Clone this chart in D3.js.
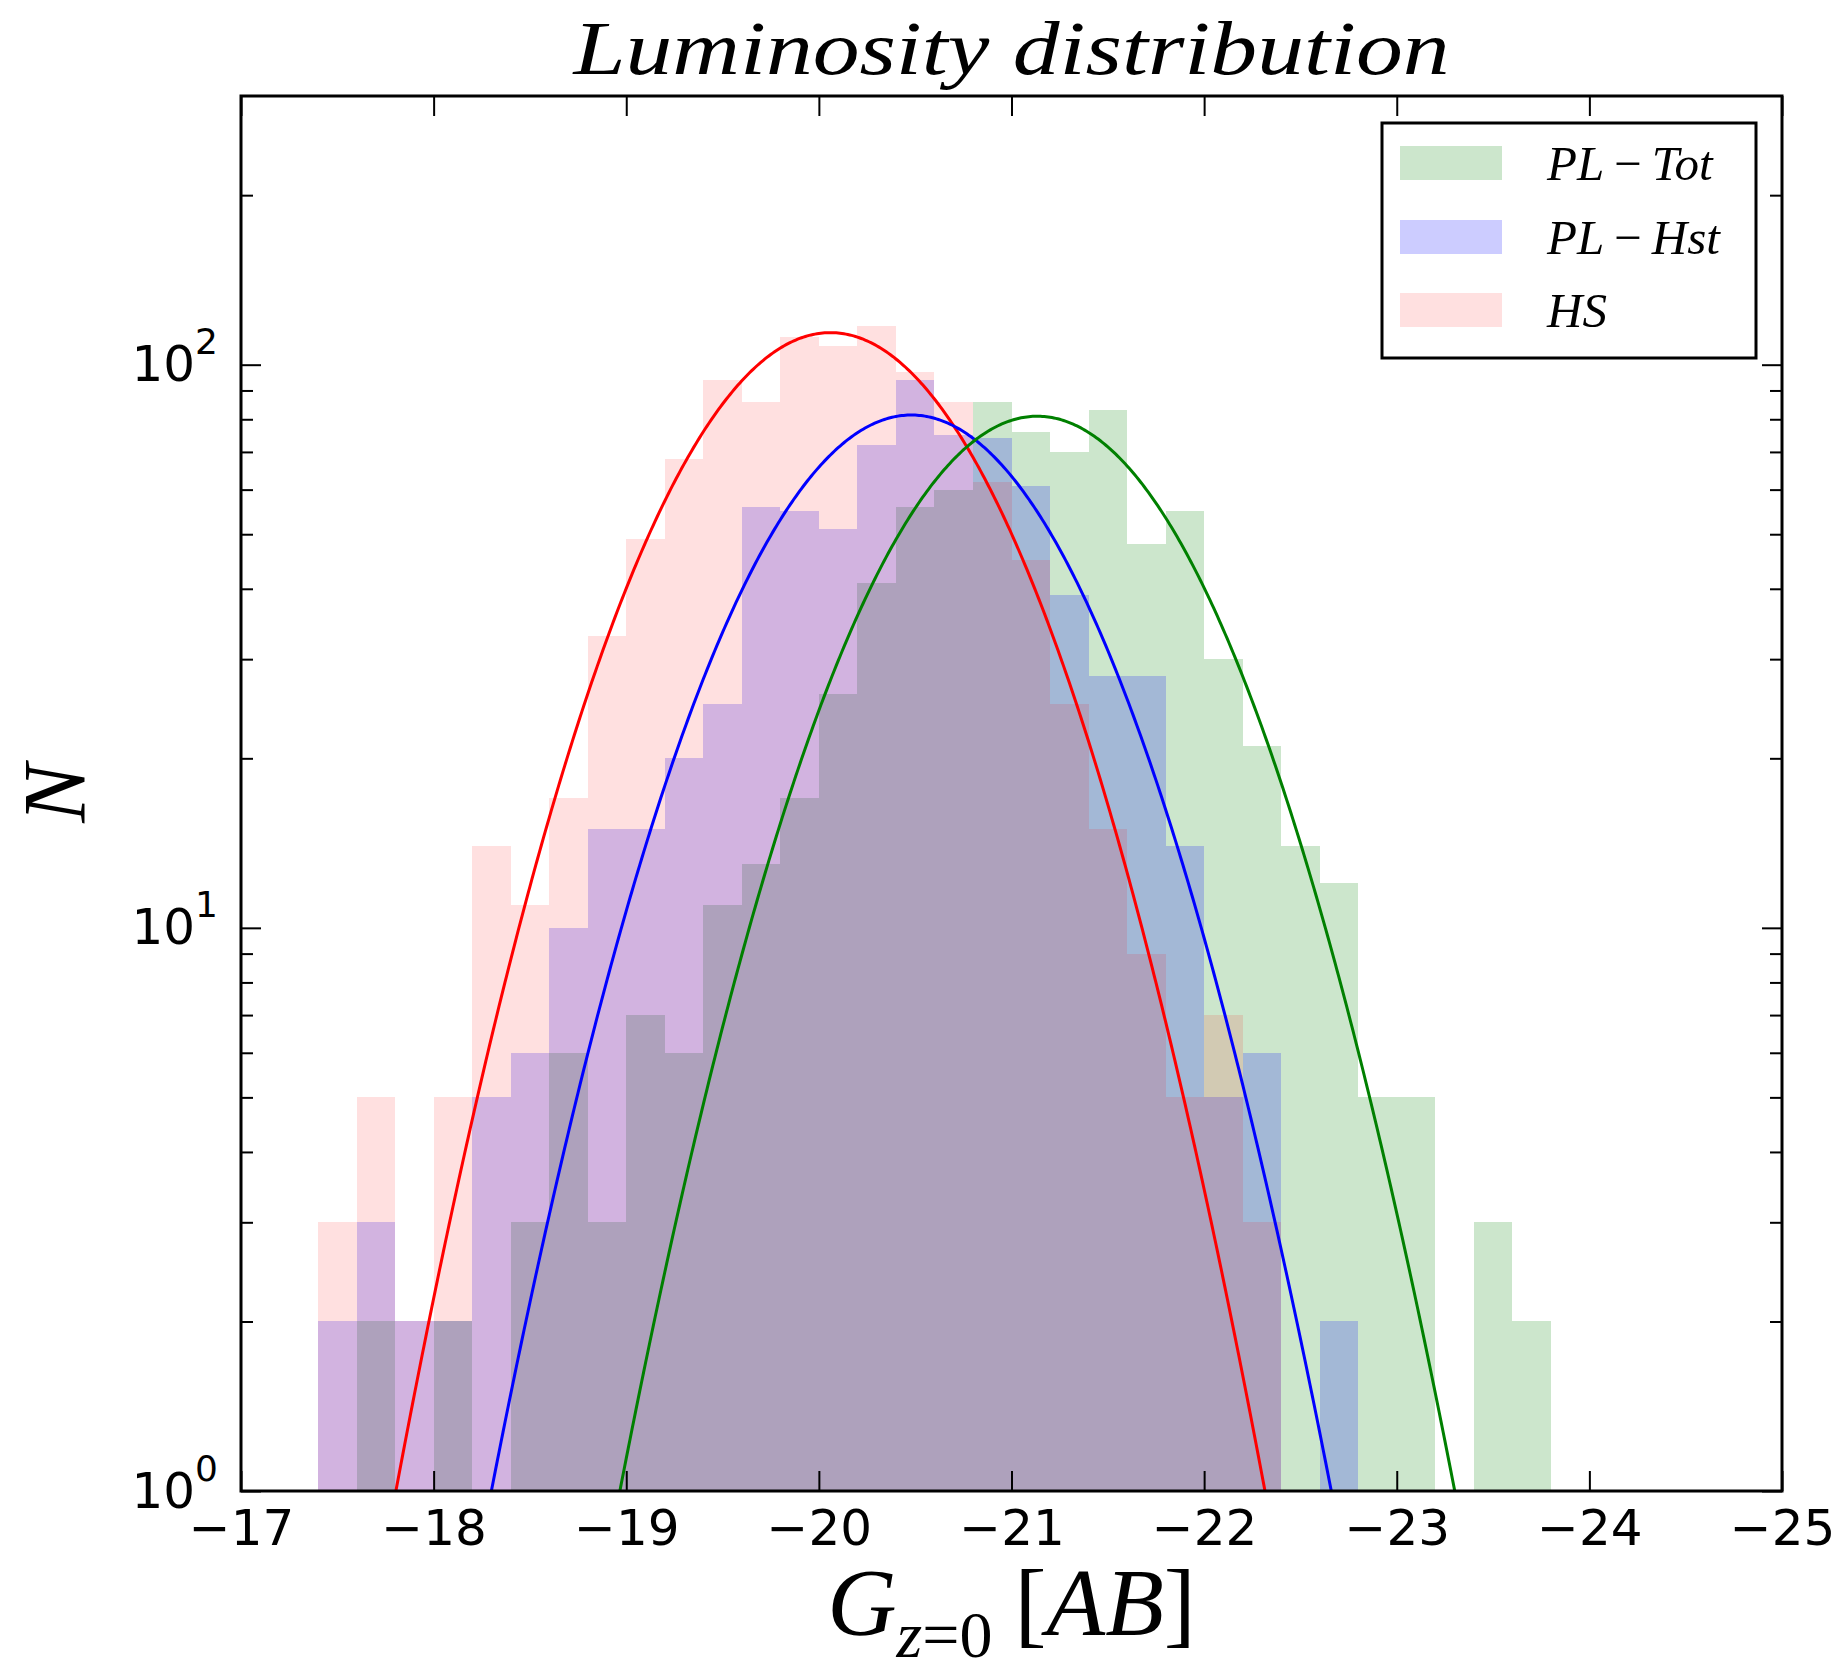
<!DOCTYPE html>
<html>
<head>
<meta charset="utf-8">
<script src="https://cdn.jsdelivr.net/npm/d3@7"></script>
<style>
  body { margin: 0; background: #fff; }
  svg { display: block; }
  .tick line { stroke: #000; stroke-width: 2; }
</style>
</head>
<body>
<div id="chart"></div>
<script>
//============= DATA ==============//
// histogram bin edges in G_{z=0} [AB], 0.2 mag wide
const binEdges = [-17.4, -17.6, -17.8, -18.0, -18.2, -18.4, -18.6, -18.8, -19.0, -19.2,
                  -19.4, -19.6, -19.8, -20.0, -20.2, -20.4, -20.6, -20.8, -21.0, -21.2,
                  -21.4, -21.6, -21.8, -22.0, -22.2, -22.4, -22.6, -22.8, -23.0, -23.2,
                  -23.4, -23.6, -23.8];

// counts per bin
const plTot = [0, 2, 0, 2, 0, 3, 6, 3, 7, 6, 11, 13, 17, 26, 41, 56, 60, 86, 76, 70,
               83, 48, 55, 30, 21, 14, 12, 5, 5, 0, 3, 2];
const plHst = [2, 3, 2, 2, 5, 6, 10, 15, 15, 20, 25, 56, 55, 51, 72, 94, 75, 74, 61, 39,
               28, 28, 14, 5, 6, 0, 2, 0, 0, 0, 0, 0];
const hs    = [3, 5, 2, 5, 14, 11, 17, 33, 49, 68, 94, 86, 112, 108, 117, 97, 86, 62, 45, 25,
               15, 9, 5, 7, 3, 0, 0, 0, 0, 0, 0, 0];

// gaussian fits: [mean, sigma, peak]
const fitTot = [-21.134, 0.731, 81];
const fitHst = [-20.48, 0.735, 81.4];
const fitHs  = [-20.06, 0.733, 114];

const seriesNames = ["PL\u2212Tot", "PL\u2212Hst", "HS"];
const xTicks = [-17, -18, -19, -20, -21, -22, -23, -24, -25];
const yMajor = [1, 10, 100];
const yMinor = [2, 3, 4, 5, 6, 7, 8, 9, 20, 30, 40, 50, 60, 70, 80, 90, 200];
const xDomain = [-17, -25];
const yDomain = [1, 300];

const series = [
  {name: seriesNames[0], counts: plTot, fit: fitTot, color: "#008000", alpha: 0.2},
  {name: seriesNames[1], counts: plHst, fit: fitHst, color: "#0000ff", alpha: 0.2},
  {name: seriesNames[2], counts: hs,    fit: fitHs,  color: "#ff0000", alpha: 0.12}
];

//============= SETUP ==============//
const W = 1844, H = 1672;
const margin = {top: 96, right: 62, bottom: 181, left: 241};
const width = W - margin.left - margin.right;
const height = H - margin.top - margin.bottom;

const svg = d3.select("#chart").append("svg")
    .attr("width", W)
    .attr("height", H);

const g = svg.append("g")
    .attr("transform", "translate(" + margin.left + "," + margin.top + ")");

const x = d3.scaleLinear().domain(xDomain).range([0, width]);
const y = d3.scaleLog().domain(yDomain).range([height, 0]);

g.append("clipPath").attr("id", "clip")
  .append("rect").attr("width", width).attr("height", height);

const plot = g.append("g").attr("clip-path", "url(#clip)");

//============= HISTOGRAMS ==============//
series.forEach(s => {
  const bins = s.counts.map((c, i) => ({c: c, x0: binEdges[i], x1: binEdges[i + 1]}))
    .filter(d => d.c > 0);
  plot.append("g")
    .attr("shape-rendering", "crispEdges")
    .selectAll("rect")
    .data(bins)
    .join("rect")
      .attr("x", d => x(d.x0))
      .attr("width", d => x(d.x1) - x(d.x0))
      .attr("y", d => y(d.c))
      .attr("height", d => height - y(d.c))
      .attr("fill", s.color)
      .attr("fill-opacity", s.alpha);
});

//============= FIT CURVES ==============//
const gx = d3.range(-17, -25.001, -0.01);
const line = d3.line()
    .x(d => x(d[0]))
    .y(d => y(Math.max(d[1], 0.5)));

[series[2], series[1], series[0]].forEach(s => {
  const [mu, sig, amp] = s.fit;
  const pts = gx.map(v => [v, amp * Math.exp(-((v - mu) * (v - mu)) / (2 * sig * sig))]);
  plot.append("path")
    .datum(pts)
    .attr("fill", "none")
    .attr("stroke", s.color)
    .attr("stroke-width", 3)
    .attr("d", line);
});

//============= AXES ==============//
const tickFont = "'DejaVu Sans', sans-serif";

g.append("g")
    .attr("transform", "translate(0," + height + ")")
    .call(d3.axisBottom(x).tickValues(xTicks).tickSize(-20).tickPadding(18)
      .tickFormat(d => "\u2212" + Math.abs(d)));
g.append("g")
    .call(d3.axisTop(x).tickValues(xTicks).tickSize(-20).tickFormat(""));

const yAxisL = g.append("g")
    .call(d3.axisLeft(y).tickValues(yMajor).tickSize(-20).tickPadding(23).tickFormat(""));
g.append("g").call(d3.axisLeft(y).tickValues(yMinor).tickSize(-12).tickFormat(""));
g.append("g").attr("transform", "translate(" + width + ",0)")
    .call(d3.axisRight(y).tickValues(yMajor).tickSize(-20).tickFormat(""));
g.append("g").attr("transform", "translate(" + width + ",0)")
    .call(d3.axisRight(y).tickValues(yMinor).tickSize(-12).tickFormat(""));

g.selectAll(".domain").remove();
g.selectAll(".tick text").attr("font-family", tickFont).attr("font-size", 50).attr("fill", "#000");

// 10^n labels with superscript
yAxisL.selectAll(".tick text").each(function(d) {
  const t = d3.select(this).text("10");
  t.append("tspan")
    .attr("dy", -27)
    .attr("font-size", 36)
    .text(Math.round(Math.log10(d)));
});

// frame
g.append("rect")
    .attr("width", width)
    .attr("height", height)
    .attr("fill", "none")
    .attr("stroke", "#000")
    .attr("stroke-width", 3);

//============= LABELS ==============//
const serif = "'Liberation Serif', 'DejaVu Serif', serif";

svg.append("text")
    .attr("x", margin.left + width / 2)
    .attr("y", 74)
    .attr("text-anchor", "middle")
    .attr("font-family", serif)
    .attr("font-style", "italic")
    .attr("font-size", 76)
    .attr("textLength", 876)
    .attr("lengthAdjust", "spacingAndGlyphs")
    .text("Luminosity distribution");

const xl = svg.append("text")
    .attr("x", margin.left + width / 2)
    .attr("y", 1635)
    .attr("text-anchor", "middle")
    .attr("font-family", serif)
    .attr("font-size", 96);
xl.append("tspan").attr("font-style", "italic").text("G");
xl.append("tspan").attr("font-style", "italic").attr("font-size", 66).attr("dy", 22).text("z");
xl.append("tspan").attr("font-size", 66).text("=0");
xl.append("tspan").attr("dy", -22).attr("dx", 22).text("[");
xl.append("tspan").attr("font-style", "italic").text("AB");
xl.append("tspan").text("]");

svg.append("text")
    .attr("transform", "translate(84," + (margin.top + height / 2) + ") rotate(-90)")
    .attr("text-anchor", "middle")
    .attr("font-family", serif)
    .attr("font-style", "italic")
    .attr("font-size", 88)
    .text("N");

//============= LEGEND ==============//
const legend = svg.append("g").attr("transform", "translate(1382,123)");
legend.append("rect")
    .attr("width", 374)
    .attr("height", 235)
    .attr("fill", "#fff")
    .attr("stroke", "#000")
    .attr("stroke-width", 3);

const rowY = [23, 97, 170];
series.forEach((s, i) => {
  legend.append("rect")
      .attr("x", 18)
      .attr("y", rowY[i])
      .attr("width", 102)
      .attr("height", 34)
      .attr("fill", s.color)
      .attr("fill-opacity", s.alpha);
  const t = legend.append("text")
      .attr("x", 165)
      .attr("y", rowY[i] + 34)
      .attr("font-family", serif)
      .attr("font-size", 49);
  const parts = s.name.split("\u2212");
  t.append("tspan").attr("font-style", "italic").text(parts[0]);
  if (parts.length > 1) {
    t.append("tspan").attr("dx", 10).text("\u2212");
    t.append("tspan").attr("dx", 10).attr("font-style", "italic").text(parts[1]);
  }
});
</script>
</body>
</html>
